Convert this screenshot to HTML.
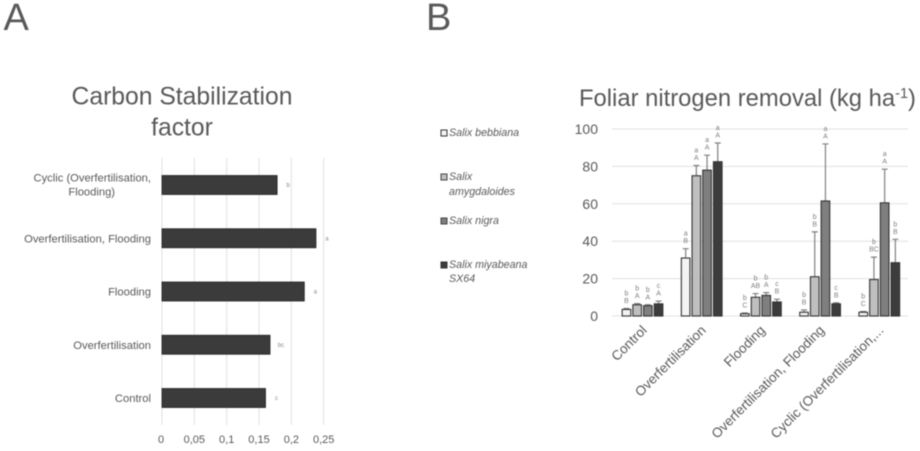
<!DOCTYPE html>
<html lang="en">
<head>
<meta charset="utf-8">
<title>Carbon Stabilization factor and Foliar nitrogen removal</title>
<style>
html,body{margin:0;padding:0;background:#fff;width:920px;height:451px;overflow:hidden}
svg{display:block;filter:blur(.45px)}
text{font-family:"Liberation Sans",sans-serif;fill:#595959}
</style>
</head>
<body>
<svg id="fig" width="920" height="451" viewBox="0 0 920 451" xmlns="http://www.w3.org/2000/svg">
  <text x="3.5" y="30" font-size="38" fill="#595959">A</text>
  <text x="426" y="30" font-size="38" fill="#595959">B</text>
  <text x="182" y="104.5" font-size="24.7" text-anchor="middle">Carbon Stabilization</text>
  <text x="182" y="135.5" font-size="24.7" text-anchor="middle">factor</text>
  <text x="579" y="106" font-size="23.8">Foliar nitrogen removal (kg ha<tspan dy="-8" font-size="14.5">-1</tspan><tspan dy="8">)</tspan></text>

  <g>
    <g>
      <rect x="441" y="130" width="6" height="6" fill="#f4f4f4" stroke="#333" stroke-width="1"/>
      <text x="449" y="136" font-size="10.7" font-style="italic">Salix bebbiana</text>
    </g>
    <g>
      <rect x="441" y="174" width="6" height="6" fill="#bfbfbf" stroke="#444" stroke-width="1"/>
      <text font-size="10.7" font-style="italic"><tspan x="449" y="180">Salix</tspan><tspan x="449" y="195">amygdaloides</tspan></text>
    </g>
    <g>
      <rect x="441" y="218" width="6" height="6" fill="#7f7f7f" stroke="#444" stroke-width="1"/>
      <text x="449" y="224" font-size="10.7" font-style="italic">Salix nigra</text>
    </g>
    <g>
      <rect x="441" y="262" width="6" height="6" fill="#3c3c3c" stroke="#333" stroke-width="1"/>
      <text font-size="10.7" font-style="italic"><tspan x="449" y="268">Salix miyabeana</tspan><tspan x="449" y="282">SX64</tspan></text>
    </g>
  </g>
  <g id="chartA"></g>
  <g id="chartB"></g>
</svg>
<script>
/* Chart A data (bottom to top) */
const carbonCategories = ['Control', 'Overfertilisation', 'Flooding', 'Overfertilisation, Flooding', 'Cyclic (Overfertilisation,|Flooding)'];
const carbonValues = [0.16, 0.167, 0.22, 0.238, 0.178];
const carbonLetters = ['c', 'bc', 'a', 'a', 'b'];
const carbonTicks = [0, 0.05, 0.1, 0.15, 0.2, 0.25];
const carbonTickLabels = ['0', '0,05', '0,1', '0,15', '0,2', '0,25'];

/* Chart B data */
const nitrogenCategories = ['Control', 'Overfertilisation', 'Flooding', 'Overfertilisation, Flooding', 'Cyclic (Overfertilisation,...'];
const nitrogenTicks = [0, 20, 40, 60, 80, 100];
const seriesNames = ['bebbiana', 'amygdaloides', 'nigra', 'miyabeana'];
const bebbianaValues = [3.5, 31, 1.2, 2, 2];
const amygdaloidesValues = [6, 75, 10, 21, 19.5];
const nigraValues = [5.5, 78, 11, 61.5, 60.5];
const miyabeanaValues = [6.5, 82.5, 7.5, 6.5, 28.5];
const bebbianaErrorTops = [4, 36, 1.6, 3.2, 2.4];
const amygdaloidesErrorTops = [6.6, 80.5, 12, 45, 31.5];
const nigraErrorTops = [6, 86, 12.5, 92, 78.5];
const miyabeanaErrorTops = [8, 92.5, 9, 7, 41];
const bebbianaLower = ['b', 'a', 'b', 'b', 'b'];
const amygdaloidesLower = ['b', 'a', 'b', 'b', 'b'];
const nigraLower = ['b', 'a', 'b', 'a', 'a'];
const miyabeanaLower = ['c', 'a', 'c', 'c', 'b'];
const bebbianaUpper = ['B', 'B', 'C', 'B', 'C'];
const amygdaloidesUpper = ['A', 'A', 'AB', 'B', 'BC'];
const nigraUpper = ['A', 'A', 'A', 'A', 'A'];
const miyabeanaUpper = ['A', 'A', 'B', 'B', 'B'];

const NS = 'http://www.w3.org/2000/svg';
function mk(tag, parent, props) {
  const el = document.createElementNS(NS, tag);
  for (const k in props) el.setAttribute(k, props[k]);
  parent.appendChild(el);
  return el;
}

/* ---------- Chart A ---------- */
const gA = document.getElementById('chartA');
const ax = v => 162 + v * (161.7 / 0.25);
const ay = i => 398 - i * 53.25;

carbonTicks.forEach((t, i) => {
  const grid = mk('line', gA, {x1: ax(t), x2: ax(t), y1: 158, y2: 425, stroke: '#e0e0e0', 'stroke-width': 1});
  
  
  const lab = mk('text', gA, {x: ax(t) - (i === 0 ? 1 : 0), y: 443, 'font-size': 11, 'text-anchor': 'middle'});
  lab.textContent = carbonTickLabels[i];
  
  
});

carbonCategories.forEach((c, i) => {
  const bar = mk('rect', gA, {x: ax(0), y: ay(i) - 9.5, width: ax(carbonValues[i]) - ax(0), height: 19, fill: '#3b3b3b', stroke: '#222', 'stroke-width': 0.8});
  
  

  const note = mk('text', gA, {x: ax(carbonValues[i]) + 11, y: ay(i) + 2, 'font-size': 6, 'text-anchor': 'middle', style: 'fill:#888'});
  note.textContent = carbonLetters[i];
  
  

  const parts = c.split('|');
  parts.forEach((p, j) => {
    const lab = mk('text', gA, {
      x: parts.length > 1 && j === 1 ? 91.7 : 151,
      y: ay(i) + 4 + (parts.length > 1 ? (j === 0 ? -7.5 : 6.5) : 0),
      'font-size': 11.2,
      'text-anchor': parts.length > 1 && j === 1 ? 'middle' : 'end'
    });
    lab.textContent = p;
    
    
  });
});

/* ---------- Chart B ---------- */
const gB = document.getElementById('chartB');
const by = v => 316 - v * 1.87;
const catCenter = i => 612 + 59.2 * (i + 0.5);
const seriesValues = [bebbianaValues, amygdaloidesValues, nigraValues, miyabeanaValues];
const seriesTops = [bebbianaErrorTops, amygdaloidesErrorTops, nigraErrorTops, miyabeanaErrorTops];
const seriesLower = [bebbianaLower, amygdaloidesLower, nigraLower, miyabeanaLower];
const seriesUpper = [bebbianaUpper, amygdaloidesUpper, nigraUpper, miyabeanaUpper];
const seriesFill = ['#f3f3f3', '#bfbfbf', '#7f7f7f', '#3c3c3c'];
const barStep = 10.7, barWidth = 8.6;

nitrogenTicks.forEach(t => {
  const grid = mk('line', gB, {x1: 612, x2: 908, y1: by(t), y2: by(t), stroke: '#e0e0e0', 'stroke-width': 1});
  
  
  const lab = mk('text', gB, {x: 598, y: by(t) + 5, 'font-size': 14, 'text-anchor': 'end'});
  lab.textContent = String(t);
  
  
});

nitrogenCategories.forEach((c, i) => {
  const cx = catCenter(i);
  seriesValues.forEach((vals, s) => {
    const x = cx + 0.9 + (s - 2) * barStep + (barStep - barWidth) / 2;
    const mid = x + barWidth / 2;
    const top = seriesTops[s][i];

    const err = mk('path', gB, {d: 'M' + mid + ' ' + by(vals[i]) + 'V' + by(top) + 'M' + (mid - 3) + ' ' + by(top) + 'h6', stroke: '#808080', 'stroke-width': 1.2, fill: 'none'});
    
    

    const bar = mk('rect', gB, {x: x, y: by(vals[i]), width: barWidth, height: by(0) - by(vals[i]), fill: seriesFill[s], stroke: '#333', 'stroke-width': 1.1});
    
    

    const up = mk('text', gB, {x: mid, y: by(top) - 5.5, 'font-size': 7, 'text-anchor': 'middle', style: 'fill:#808080'});
    up.textContent = seriesUpper[s][i];
    
    

    const low = mk('text', gB, {x: mid, y: by(top) - 13, 'font-size': 7, 'text-anchor': 'middle', style: 'fill:#808080'});
    low.textContent = seriesLower[s][i];
    
    
  });

  const ex = cx + 6, ey = 331;
  const lab = mk('text', gB, {x: ex, y: ey, 'font-size': 13.5, 'text-anchor': 'end', transform: 'rotate(-45 ' + ex + ' ' + ey + ')'});
  lab.textContent = c;
  
  
});
</script>
</body>
</html>
